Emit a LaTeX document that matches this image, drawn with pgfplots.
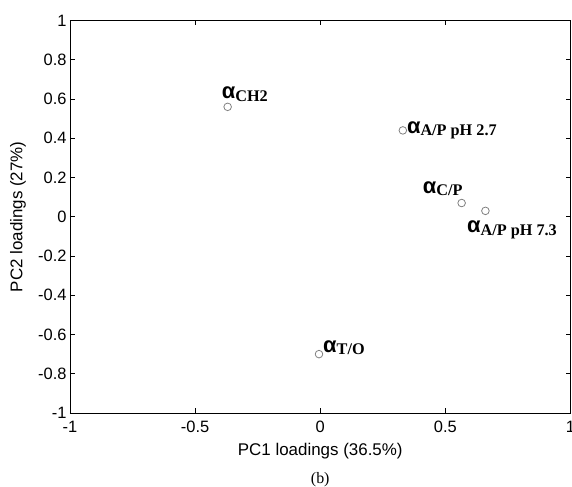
\documentclass[border=0pt]{standalone}
\usepackage{fontspec}
\setmainfont{Liberation Sans}
\newfontfamily\seriffont{Liberation Serif}
\newfontfamily\alphafont{Liberation Sans}
\usepackage{pgfplots}
\pgfplotsset{compat=1.18}
\newcommand{\lab}[1]{{\alphafont\bfseries\fontsize{22}{22}\selectfont α}{\seriffont\bfseries\fontsize{16.3}{16.3}\selectfont\raisebox{-2.5bp}{#1}}}
\pgfplotstableread{
x y
-0.37 0.56
0.33 0.44
0.565 0.07
0.66 0.03
-0.005 -0.70
}\loadings
\begin{document}
\begin{tikzpicture}
\begin{axis}[
  scale only axis, width=500.5bp, height=392.5bp,
  at={(0,0)}, anchor=south west,
  xmin=-1, xmax=1, ymin=-1, ymax=1,
  xtick={-1,-0.5,0,0.5,1},
  ytick={-1,-0.8,-0.6,-0.4,-0.2,0,0.2,0.4,0.6,0.8,1},
  tick align=inside, major tick length=5bp,
  tick style={black, line width=0.6bp},
  axis line style={line width=0.8bp},
  ticklabel style={font=\fontsize{16.5}{16.5}\selectfont},
  xticklabel style={yshift=-5bp},
  /pgf/number format/assume math mode=true,
  xlabel={PC1 loadings (36.5\%)},
  ylabel={PC2 loadings (27\%)},
  label style={font=\fontsize{17}{17}\selectfont},
  xlabel style={at={(axis description cs:0.5,-0.0968)}, anchor=center},
  ylabel style={at={(axis description cs:-0.104,0.5)}, anchor=center},
  clip=false,
]
\addplot[only marks, mark=o, mark size=3.8bp, draw=gray, mark options={line width=0.8bp}] table {\loadings};
\node[anchor=base west, inner sep=0, xshift=-6bp, yshift=7.9bp] at (axis cs:-0.37,0.56) {\lab{CH2}};
\node[anchor=base west, inner sep=0, xshift=4bp, yshift=-3bp] at (axis cs:0.33,0.44) {\lab{A/P pH 2.7}};
\node[anchor=base west, inner sep=0, xshift=-39bp, yshift=10bp] at (axis cs:0.565,0.07) {\lab{C/P}};
\node[anchor=base west, inner sep=0, xshift=-18.5bp, yshift=-22bp] at (axis cs:0.66,0.03) {\lab{A/P pH 7.3}};
\node[anchor=base west, inner sep=0, xshift=4bp, yshift=2bp] at (axis cs:-0.005,-0.70) {\lab{T/O}};
\node[font=\seriffont\fontsize{16}{16}\selectfont] at (axis description cs:0.5,-0.171) {(b)};
\end{axis}
\pgfresetboundingbox
\path[use as bounding box] (-70bp,-74bp) rectangle (502bp,413bp);
\end{tikzpicture}
\end{document}
